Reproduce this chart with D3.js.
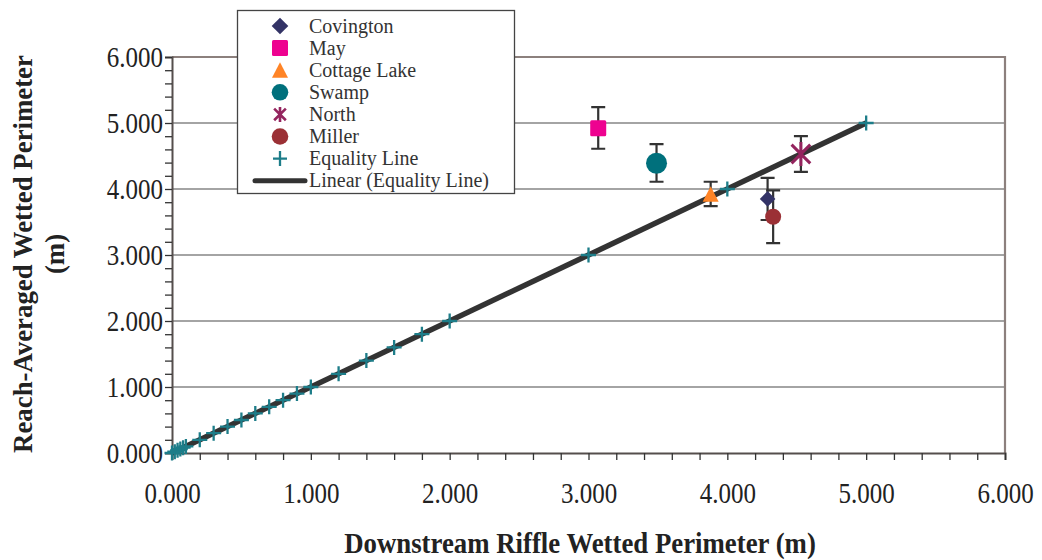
<!DOCTYPE html>
<html><head><meta charset="utf-8">
<script src="https://cdn.jsdelivr.net/npm/d3@7/dist/d3.min.js"></script>
<style>
body{margin:0;background:#fff;}
svg{display:block;font-family:"Liberation Serif","Times New Roman",serif;}
</style></head>
<body><svg id="chart" width="1042" height="560"></svg>
<script>
// ---- data ----
const siteNames = ["Covington","May","Cottage Lake","Swamp","North","Miller"];
const siteX     = [4.29, 3.07, 3.88, 3.49, 4.53, 4.33];
const siteY     = [3.85, 4.92, 3.92, 4.39, 4.53, 3.58];
const siteLow   = [3.53, 4.61, 3.74, 4.11, 4.26, 3.18];
const siteHigh  = [4.17, 5.24, 4.11, 4.68, 4.80, 3.98];
const equalityVals = [0,0.02,0.04,0.06,0.08,0.1,0.2,0.3,0.4,0.5,0.6,0.7,0.8,0.9,1.0,1.2,1.4,1.6,1.8,2.0,3.0,4.0,5.0];
const trendX = [0,5];
const tickVals = [0,1,2,3,4,5,6];
const minorTickVals = d3.range(0,6.001,0.2);

const colors = {Covington:"#333366",May:"#ee0290","Cottage Lake":"#ff8426",Swamp:"#00707c",North:"#94245e",Miller:"#9b3035"};
const teal = "#1d7d89";

const svg = d3.select("#chart");
const x = d3.scaleLinear().domain([0,6]).range([172,1005]);
const y = d3.scaleLinear().domain([0,6]).range([453,57]);
const fmt = d3.format(".3f");

// gridlines
svg.append("g").selectAll("line").data(tickVals.filter(v=>v>0&&v<6)).join("line")
  .attr("x1",x(0)).attr("x2",x(6)).attr("y1",d=>y(d)).attr("y2",d=>y(d))
  .attr("stroke","#4a4a4a").attr("stroke-width",1.2);

// plot border top/right
svg.append("path").attr("d",`M${x(0)},${y(6)}H${x(6)}V${y(0)}`)
  .attr("fill","none").attr("stroke","#8c807d").attr("stroke-width",2.2);

// axes
const xAxisMinor = d3.axisBottom(x).tickValues(minorTickVals).tickSize(7).tickFormat("");
const yAxisMinor = d3.axisLeft(y).tickValues(minorTickVals).tickSize(7).tickFormat("");
const gxm = svg.append("g").attr("transform",`translate(0,${y(0)})`).call(xAxisMinor);
const gym = svg.append("g").attr("transform",`translate(${x(0)},0)`).call(yAxisMinor);
[gxm,gym].forEach(g=>{g.select(".domain").attr("stroke","#554e4c").attr("stroke-width",2);
  g.selectAll(".tick line").attr("stroke","#333").attr("stroke-width",1.3);});

const gx = svg.append("g").attr("transform",`translate(0,${y(0)})`)
  .call(d3.axisBottom(x).tickValues(tickVals).tickSize(0).tickFormat(fmt));
const gy = svg.append("g").attr("transform",`translate(${x(0)},0)`)
  .call(d3.axisLeft(y).tickValues(tickVals).tickSize(0).tickFormat(fmt));
[gx,gy].forEach(g=>{g.select(".domain").remove();
  g.selectAll("text").attr("font-family","Liberation Serif, serif").attr("font-size",25).attr("fill","#222")
   .attr("x",0).attr("y",0).attr("dy",0);});
gx.selectAll("text").attr("transform","translate(0,50) scale(1,1.15)");
gy.selectAll("text").attr("transform","translate(-9,9.5) scale(1,1.15)");

// trend line
const lineGen = d3.line().x(d=>x(d)).y(d=>y(d));
svg.append("path").datum(trendX).attr("d",lineGen)
  .attr("stroke","#333333").attr("stroke-width",5.5).attr("fill","none");

// equality crosses
svg.append("g").selectAll("path").data(equalityVals).join("path")
  .attr("d",d=>`M${x(d)-7.5},${y(d)}H${x(d)+7.5}M${x(d)},${y(d)-7.5}V${y(d)+7.5}`)
  .attr("stroke",teal).attr("stroke-width",2.3).attr("fill","none");

// error bars
const eb = svg.append("g").attr("stroke","#333").attr("stroke-width",2.2).attr("fill","none");
siteNames.forEach((n,i)=>{
  const cx = x(siteX[i]);
  eb.append("path").attr("d",`M${cx},${y(siteLow[i])}V${y(siteHigh[i])}M${cx-7},${y(siteLow[i])}H${cx+7}M${cx-7},${y(siteHigh[i])}H${cx+7}`);
});

// markers
function marker(g,name,cx,cy,big){
  const c = colors[name];
  if(name==="Covington"){
    const s = big?7.8:8.3;
    g.append("path").attr("d",`M${cx},${cy-s}L${cx+s},${cy}L${cx},${cy+s}L${cx-s},${cy}Z`).attr("fill",c);
  } else if(name==="May"){
    g.append("rect").attr("x",cx-8).attr("y",cy-8).attr("width",16).attr("height",16).attr("rx",1.5).attr("fill",c);
  } else if(name==="Cottage Lake"){
    g.append("path").attr("d",`M${cx},${cy-8}L${cx+8},${cy+7.5}L${cx-8},${cy+7.5}Z`).attr("fill",c);
  } else if(name==="Swamp"){
    g.append("circle").attr("cx",cx).attr("cy",cy).attr("r",big?10.5:8.3).attr("fill",c);
  } else if(name==="North"){
    const r = big?12:7.5;
    const d = r*0.78;
    g.append("path").attr("d",`M${cx-d},${cy-d}L${cx+d},${cy+d}M${cx+d},${cy-d}L${cx-d},${cy+d}M${cx},${cy-r}V${cy+r}`)
      .attr("stroke",c).attr("stroke-width",big?3:2.6).attr("fill","none");
  } else if(name==="Miller"){
    g.append("circle").attr("cx",cx).attr("cy",cy).attr("r",big?8:8.3).attr("fill",c);
  }
}
const mg = svg.append("g");
siteNames.forEach((n,i)=>marker(mg,n,x(siteX[i]),y(siteY[i]),true));

// legend
const lg = svg.append("g");
lg.append("rect").attr("x",237.5).attr("y",10.5).attr("width",277).attr("height",183)
  .attr("fill","#fff").attr("stroke","#444").attr("stroke-width",1.3);
const legendItems = siteNames.concat(["Equality Line","Linear (Equality Line)"]);
legendItems.forEach((n,i)=>{
  const cy = 26 + i*22.1;
  if(i<6) marker(lg,n,280,cy,false);
  else if(i===6) lg.append("path").attr("d",`M273,${cy}H287M280,${cy-7.5}V${cy+7.5}`).attr("stroke",teal).attr("stroke-width",2.3);
  else lg.append("line").attr("x1",255).attr("x2",305).attr("y1",cy).attr("y2",cy).attr("stroke","#333").attr("stroke-width",5).attr("stroke-linecap","round");
  lg.append("text").attr("x",309).attr("y",cy).attr("dy","0.33em").attr("font-size",20).attr("fill","#333").text(n);
});

// axis titles
svg.append("text").attr("transform","translate(580,553) scale(1,1.06)").attr("text-anchor","middle")
  .attr("font-weight","bold").attr("font-size",26.8).attr("fill","#222").text("Downstream Riffle Wetted Perimeter (m)");
const yt = svg.append("text").attr("transform","translate(0,254) rotate(-90)").attr("text-anchor","middle")
  .attr("font-weight","bold").attr("font-size",26.8).attr("fill","#222");
yt.append("tspan").attr("x",0).attr("y",32).text("Reach-Averaged Wetted Perimeter");
yt.append("tspan").attr("x",0).attr("y",64).text("(m)");
</script></body></html>
